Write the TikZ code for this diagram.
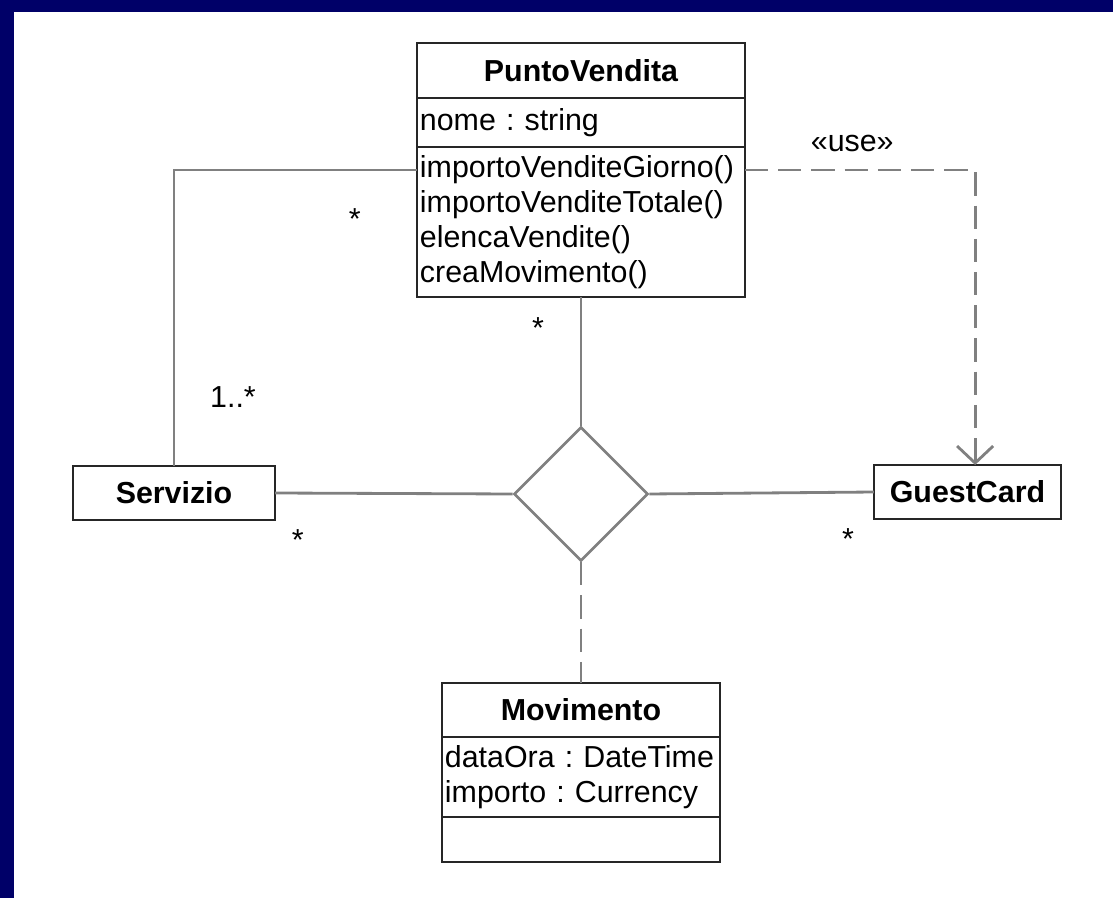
\documentclass[tikz,border=0pt]{standalone}
\usepackage{fontspec}
\setmainfont{Liberation Sans}
\usetikzlibrary{positioning,shapes.geometric,arrows.meta}
\definecolor{navyband}{RGB}{0,0,104}
\definecolor{linegray}{RGB}{128,128,128}
\frenchspacing
\begin{document}
\begin{tikzpicture}[x=0.025cm,y=-0.025cm,
        font=\fontsize{21.6}{24.9}\selectfont,
        part/.style={rectangle,draw=black!85,line width=1.6pt,fill=white,inner xsep=0.075cm,inner ysep=0pt,outer sep=0pt,align=left,anchor=north},
        head/.style={part,font=\fontsize{21.6}{24.9}\selectfont\bfseries,align=center},
        assoc/.style={draw=linegray,line width=2pt},
        dep/.style={assoc,dash pattern=on 0.58cm off 0.25cm},
        mult/.style={inner sep=0pt}]

        % page and frame
        \fill[white] (0,0) rectangle (1113,898);
        \fill[navyband] (0,0) rectangle (1113,12);
        \fill[navyband] (0,0) rectangle (14,898);
        \useasboundingbox (0,0) rectangle (1113,898);

        % classes
        \node[head,minimum width=8.2cm,minimum height=1.375cm] (pvh) at (581,43) {PuntoVendita};
        \node[part,below=0cm of pvh,minimum width=8.2cm,minimum height=1.225cm,text width=8.05cm] (pva) {nome : string};
        \node[part,below=0cm of pva,minimum width=8.2cm,minimum height=3.75cm,text width=8.05cm] (pvm)
            {importoVenditeGiorno()\\importoVenditeTotale()\\elencaVendite()\\creaMovimento()};

        \node[head,anchor=center,minimum width=5.05cm,minimum height=1.35cm] (srv) at (174,493) {Servizio};
        \node[head,anchor=center,minimum width=4.675cm,minimum height=1.35cm] (gc) at (967.5,492) {GuestCard};

        \node[diamond,aspect=1,draw=linegray,line width=1.8pt,fill=white,inner sep=0pt,
            minimum width=3.35cm,minimum height=3.35cm] (assn) at (581,494) {};

        \node[head,minimum width=6.95cm,minimum height=1.35cm] (mvh) at (581,683) {Movimento};
        \node[part,below=0cm of mvh,minimum width=6.95cm,minimum height=2cm,text width=6.8cm] (mva)
            {dataOra : DateTime\\importo : Currency};
        \node[part,below=0cm of mva,minimum width=6.95cm,minimum height=1.125cm] (mvo) {};

        % associations
        \draw[assoc] ([yshift=-0.575cm]pvm.north west) -| node[mult,pos=0.128,yshift=-1.225cm] {*}
            node[mult,pos=0.883,xshift=1.475cm] {1..*} (srv.north);
        \draw[assoc] (pvm.south) -- node[mult,pos=0.237,xshift=-1.075cm] {*} (assn.north);
        \draw[assoc] (srv.east) -- node[mult,pos=0.096,yshift=-1.175cm] {*} (assn.west);
        \draw[assoc] (assn.east) -- node[mult,pos=0.885,yshift=-1.175cm] {*} (gc.west);
        \draw[dep] (assn.south) -- (mvh.north);
        \draw[dep,-{Straight Barb[length=0.425cm,width=0.9cm]}] ([yshift=-0.575cm]pvm.north east) -|
            node[mult,pos=0.233,yshift=0.675cm] {«use»} ([xshift=0.19cm]gc.north);
\end{tikzpicture}
\end{document}
